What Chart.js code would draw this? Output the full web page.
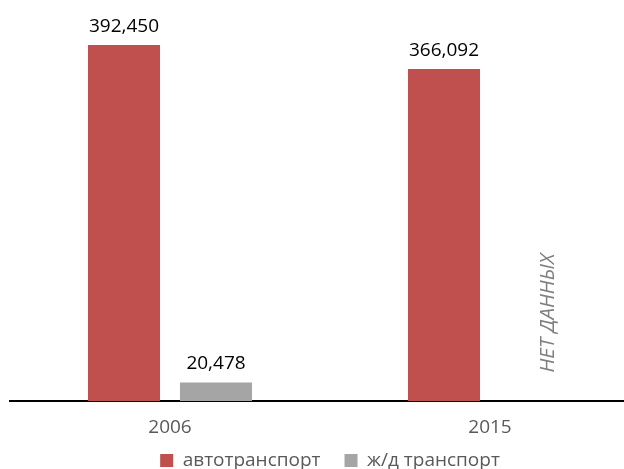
<!DOCTYPE html>
<html>
<head>
<meta charset="utf-8">
<script src="https://cdn.jsdelivr.net/npm/chart.js@4"></script>
<style>
    html, body { margin: 0; padding: 0; background: #fff; overflow: hidden; }
    #wrap { position: absolute; left: 0; top: 0; width: 660px; height: 480px; }
</style>
</head>
<body>
<div id="wrap"><canvas id="transportChart"></canvas></div>
<script>
const years = ["2006", "2015"];
const roadValues = [392450, 366092];
const railValues = [20478, null];
const seriesNames = ["автотранспорт", "ж/д транспорт"];
const noDataText = "НЕТ ДАННЫХ";

const FONT = "'Open Sans', sans-serif";

function formatNumber(v) {
    return v.toLocaleString("en-US");
}

// value labels over the bars + "no data" note in the empty slot
const barLabels = {
    id: "barLabels",
    afterDatasetsDraw: function (chart) {
        const ctx = chart.ctx;
        ctx.save();
        ctx.font = "19px " + FONT;
        ctx.fillStyle = "#000";
        ctx.textAlign = "center";
        ctx.textBaseline = "alphabetic";
        chart.data.datasets.forEach(function (ds, i) {
            const meta = chart.getDatasetMeta(i);
            meta.data.forEach(function (bar, j) {
                if (ds.data[j] == null) return;
                ctx.fillText(formatNumber(ds.data[j]), bar.x, bar.y - 13);
            });
        });

        const red = chart.getDatasetMeta(0).data[1];
        const slot = red.width / 0.783;
        ctx.translate(red.x + slot + 12, chart.chartArea.bottom - 88);
        ctx.rotate(-Math.PI / 2);
        ctx.font = "italic 20.5px " + FONT;
        ctx.fillStyle = "#7f7f7f";
        ctx.textBaseline = "middle";
        ctx.fillText(noDataText, 0, 0);
        ctx.restore();
    },
};

new Chart(document.getElementById("transportChart"), {
    type: "bar",
    data: {
        labels: years,
        datasets: [
            {
                label: seriesNames[0],
                data: roadValues,
                backgroundColor: "#C0504D",
            },
            {
                label: seriesNames[1],
                data: railValues,
                backgroundColor: "#A5A5A5",
            },
        ],
    },
    options: {
        responsive: true,
        maintainAspectRatio: false,
        animation: false,
        categoryPercentage: 0.575,
        barPercentage: 0.783,
        layout: {
            padding: { left: 10, right: 10, top: 20, bottom: 0 },
        },
        plugins: {
            legend: {
                position: "bottom",
                labels: {
                    boxWidth: 13,
                    boxHeight: 13,
                    padding: 5,
                    color: "#595959",
                    font: { family: FONT, size: 19, lineHeight: 1 },
                    generateLabels: function (chart) {
                        const items = Chart.defaults.plugins.legend.labels.generateLabels(chart);
                        items[0].text = items[0].text + "\u2003";
                        return items;
                    },
                },
            },
            tooltip: { enabled: false },
        },
        scales: {
            x: {
                grid: { display: false },
                border: { display: true, color: "#000", width: 2 },
                ticks: {
                    color: "#595959",
                    padding: 9,
                    font: { family: FONT, size: 19, lineHeight: 1 },
                },
            },
            y: {
                display: false,
                min: 0,
                max: 420000,
            },
        },
    },
    plugins: [barLabels],
});
</script>
</body>
</html>
